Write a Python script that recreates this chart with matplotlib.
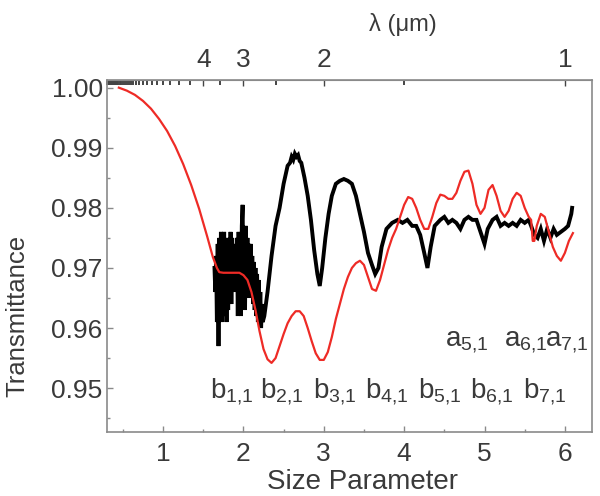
import matplotlib
matplotlib.use("Agg")
from matplotlib import pyplot as plt
from matplotlib.ticker import MultipleLocator, FixedLocator, NullFormatter

plt.rcParams["font.family"] = ["Liberation Sans", "DejaVu Sans"]
plt.rcParams["mathtext.fontset"] = "custom"
plt.rcParams["mathtext.rm"] = "Liberation Sans"
plt.rcParams["mathtext.default"] = "regular"

# measured transmittance (black)
meas_x = [1.64, 1.65, 1.66, 1.67, 1.68, 1.69, 1.70, 1.71, 1.72, 1.73, 1.74, 1.75, 1.76, 1.77, 1.78,
          1.79, 1.80, 1.81, 1.82, 1.83, 1.84, 1.85, 1.86, 1.87, 1.88, 1.89, 1.90, 1.91, 1.92, 1.93,
          1.94, 1.95, 1.96, 1.97, 1.98, 1.99, 2.00, 2.01, 2.02, 2.03, 2.04, 2.05, 2.06, 2.07, 2.08,
          2.09, 2.10, 2.11, 2.12, 2.13, 2.14, 2.15, 2.16, 2.17, 2.18, 2.19, 2.20, 2.21, 2.22, 2.23,
          2.24, 2.26, 2.30, 2.35, 2.40, 2.45, 2.50, 2.55, 2.58, 2.60, 2.62, 2.64, 2.66, 2.68, 2.70,
          2.72, 2.76, 2.80, 2.84, 2.88, 2.92, 2.95, 2.98, 3.02, 3.06, 3.10, 3.15, 3.20, 3.25, 3.30,
          3.35, 3.40, 3.45, 3.50, 3.55, 3.60, 3.64, 3.68, 3.72, 3.78, 3.85, 3.92, 3.98, 4.04, 4.10,
          4.15, 4.20, 4.25, 4.29, 4.33, 4.38, 4.45, 4.50, 4.55, 4.60, 4.65, 4.70, 4.75, 4.80, 4.85,
          4.90, 4.95, 5.00, 5.04, 5.10, 5.15, 5.20, 5.25, 5.30, 5.35, 5.40, 5.45, 5.50, 5.55, 5.58,
          5.62, 5.66, 5.70, 5.74, 5.78, 5.82, 5.86, 5.90, 5.95, 6.00, 6.04, 6.08, 6.09]
meas_y = [0.970, 0.966, 0.972, 0.961, 0.974, 0.957, 0.975, 0.962, 0.976, 0.961, 0.975, 0.963, 0.976, 0.962, 0.974,
          0.961, 0.975, 0.963, 0.974, 0.964, 0.976, 0.964, 0.975, 0.966, 0.973, 0.967, 0.974, 0.966, 0.975, 0.962,
          0.976, 0.967, 0.975, 0.962, 0.977, 0.9805, 0.966, 0.976, 0.963, 0.977, 0.966, 0.975, 0.965, 0.974, 0.966,
          0.974, 0.965, 0.972, 0.964, 0.971, 0.963, 0.970, 0.962, 0.969, 0.961, 0.968, 0.961, 0.966, 0.960, 0.964,
          0.961, 0.962, 0.966, 0.972, 0.977, 0.980, 0.984, 0.987, 0.9875, 0.9885, 0.988, 0.989, 0.9885, 0.9888, 0.9878,
          0.9875, 0.985, 0.982, 0.978, 0.973, 0.969, 0.967, 0.970, 0.975, 0.979, 0.982, 0.984, 0.9845, 0.9848, 0.9845,
          0.984, 0.982, 0.979, 0.976, 0.9725, 0.9705, 0.969, 0.970, 0.9735, 0.9765, 0.9775, 0.978, 0.9775, 0.978, 0.977,
          0.977, 0.9755, 0.9725, 0.970, 0.9735, 0.977, 0.978, 0.9785, 0.9775, 0.978, 0.9775, 0.9765, 0.978, 0.9785, 0.978,
          0.978, 0.976, 0.974, 0.9765, 0.978, 0.9785, 0.977, 0.9775, 0.977, 0.9775, 0.977, 0.978, 0.9775, 0.978, 0.977,
          0.9755, 0.975, 0.9765, 0.9745, 0.9765, 0.975, 0.9765, 0.9755, 0.976, 0.9765, 0.977, 0.979, 0.980]

# calculated transmittance (red)
calc_x = [0.45, 0.55, 0.65, 0.75, 0.85, 0.95, 1.05, 1.15, 1.25, 1.35, 1.45, 1.55, 1.62, 1.67, 1.70,
          1.75, 1.85, 1.95, 2.00, 2.05, 2.10, 2.15, 2.20, 2.25, 2.30, 2.35, 2.40, 2.45, 2.50, 2.55,
          2.60, 2.65, 2.70, 2.75, 2.80, 2.85, 2.90, 2.95, 3.00, 3.05, 3.10, 3.15, 3.20, 3.25, 3.30,
          3.35, 3.40, 3.45, 3.50, 3.55, 3.60, 3.65, 3.70, 3.75, 3.80, 3.85, 3.90, 3.95, 4.00, 4.05,
          4.10, 4.15, 4.20, 4.25, 4.30, 4.35, 4.40, 4.45, 4.50, 4.55, 4.60, 4.65, 4.70, 4.75, 4.80,
          4.85, 4.90, 4.95, 5.00, 5.05, 5.10, 5.15, 5.20, 5.25, 5.30, 5.35, 5.40, 5.45, 5.50, 5.55,
          5.58, 5.60, 5.62, 5.65, 5.70, 5.75, 5.80, 5.85, 5.90, 5.95, 6.00, 6.05, 6.10]
calc_y = [1.0000, 0.9995, 0.9988, 0.9978, 0.9965, 0.9948, 0.9928, 0.9903, 0.9873, 0.9838, 0.9798, 0.9752, 0.9718, 0.9700, 0.9693,
          0.9692, 0.9692, 0.9692, 0.9688, 0.9680, 0.9660, 0.9630, 0.9595, 0.9565, 0.9548, 0.9542, 0.9550, 0.9570, 0.9590, 0.9608,
          0.9620, 0.9628, 0.9628, 0.9620, 0.9600, 0.9578, 0.9558, 0.9547, 0.9547, 0.9560, 0.9585, 0.9615, 0.9640, 0.9665, 0.9685,
          0.9700, 0.9708, 0.9712, 0.9705, 0.9685, 0.9665, 0.9662, 0.9680, 0.9705, 0.9730, 0.9750, 0.9765, 0.9785, 0.9805, 0.9818,
          0.9815, 0.9800, 0.9780, 0.9765, 0.9765, 0.9785, 0.9808, 0.9822, 0.9820, 0.9815, 0.9815, 0.9825, 0.9845, 0.9860, 0.9862,
          0.9840, 0.9805, 0.9790, 0.9800, 0.9830, 0.9838, 0.9820, 0.9795, 0.9785, 0.9795, 0.9815, 0.9825, 0.9820, 0.9800, 0.9785,
          0.9780, 0.9745, 0.9745, 0.9770, 0.9790, 0.9785, 0.9760, 0.9735, 0.9720, 0.9712, 0.9725, 0.9745, 0.9758]

b_labels = ["1{,}1", "2{,}1", "3{,}1", "4{,}1", "5{,}1", "6{,}1", "7{,}1"]
b_pos = [1.86, 2.48, 3.14, 3.78, 4.44, 5.09, 5.75]
a_labels = ["5{,}1", "6{,}1", "7{,}1"]
a_pos = [4.78, 5.52, 6.03]

wavelength_major = [1, 2, 3, 4]
wavelength_minor = [1.5, 2.5, 3.5] + [4 + 0.5 * i for i in range(1, 33)]

txt = "#3a3a3a"
frame = "#8a8a8a"

fig = plt.figure(figsize=(6, 4.96), dpi=100)
ax = fig.add_axes([0.178, 0.129, 0.809, 0.710])

ax.plot(meas_x, meas_y, color="black", lw=2.8, solid_joinstyle="miter")
ax.plot(calc_x, calc_y, color="#ee2b26", lw=1.6)

ax.set_xlim(0.30, 6.34)
ax.set_ylim(0.9427, 1.0013)
ax.xaxis.set_major_locator(MultipleLocator(1))
ax.xaxis.set_minor_locator(MultipleLocator(0.5))
ax.yaxis.set_major_locator(MultipleLocator(0.01))
ax.yaxis.set_minor_locator(MultipleLocator(0.005))
ax.yaxis.set_major_formatter(plt.FormatStrFormatter("%.2f"))
ax.tick_params(which="both", direction="in", color=frame, labelcolor=txt, labelsize=19)
ax.tick_params(which="major", length=4, width=1)
ax.tick_params(which="minor", length=2.5, width=1)
ax.tick_params(axis="x", pad=7)
ax.tick_params(axis="y", pad=3)
for s in ax.spines.values():
    s.set_color(frame)
    s.set_linewidth(1.2)

ax.set_xlabel("Size Parameter", fontsize=20, color=txt)
ax.xaxis.set_label_coords(0.526, -0.105)
ax.set_ylabel("Transmittance", fontsize=18.5, color=txt)
ax.yaxis.set_label_coords(-0.16, 0.33)

top = ax.secondary_xaxis("top", functions=(lambda x: 6.0 / x, lambda l: 6.0 / l))
top.xaxis.set_major_locator(FixedLocator(wavelength_major))
top.xaxis.set_minor_locator(FixedLocator(wavelength_minor))
top.xaxis.set_minor_formatter(NullFormatter())
top.tick_params(which="both", direction="in", color="#444444", labelcolor=txt, labelsize=19)
top.tick_params(which="major", length=4, width=1, pad=6)
top.tick_params(which="minor", length=3.5, width=1.4)
top.spines["top"].set_color(frame)
fig.text(403 / 600, 1 - 25 / 496, "λ (μm)", fontsize=17, color=txt, ha="center", va="center")

for p, lab in zip(b_pos, b_labels):
    ax.text(p, 0.9483, r"b$_{%s}$" % lab, fontsize=20, color=txt, ha="center", va="baseline")
for p, lab in zip(a_pos, a_labels):
    ax.text(p, 0.9570, r"a$_{%s}$" % lab, fontsize=20, color=txt, ha="center", va="baseline")

fig.savefig("out.png", dpi=100)
